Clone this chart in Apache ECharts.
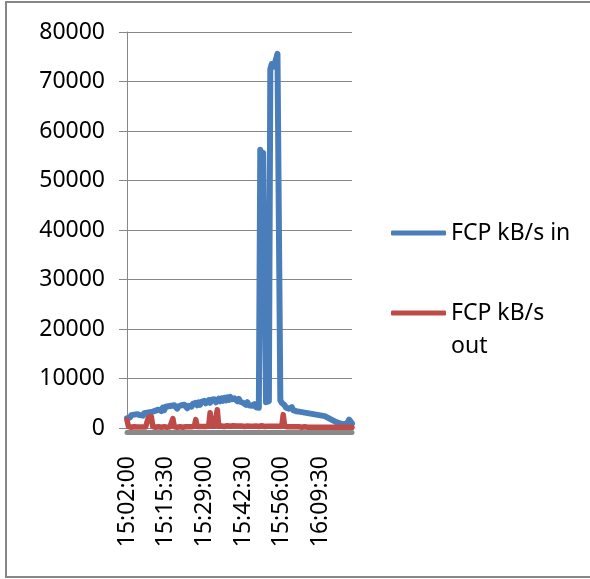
<!DOCTYPE html>
<html>
<head>
<meta charset="utf-8">
<script src="https://cdn.jsdelivr.net/npm/echarts@6/dist/echarts.min.js"></script>
<style>
  html, body { margin: 0; padding: 0; background: #fff; }
  #chart { width: 590px; height: 579px; }
</style>
</head>
<body>
<div id="chart"></div>
<script>
// Sample times: every 30 s from 15:02:00 to 16:20:30
const startSeconds = 15 * 3600 + 2 * 60;
const sampleCount = 158;
const times = [];
for (let i = 0; i < sampleCount; i++) {
  const t = startSeconds + i * 30;
  const h = Math.floor(t / 3600), m = Math.floor((t % 3600) / 60), s = t % 60;
  times.push(h + ':' + String(m).padStart(2, '0') + ':' + String(s).padStart(2, '0'));
}

const seriesNames = ['FCP kB/s in', 'FCP kB/s out'];

// Inbound throughput (kB/s)
const kbIn = [
  2000, 2400, 2100, 2600, 2200, 2700, 2300, 2800, 2400, 2600,
  2900, 2500, 3000, 2600, 3100, 2700, 3200, 2800, 3300, 2900,
  3500, 3100, 3700, 3900, 3400, 4100, 3600, 4300, 3900, 4400,
  4000, 4500, 4100, 4600, 4200, 3900, 4400, 4000, 4600, 4200,
  4700, 4300, 4000, 4500, 4800, 4300, 4900, 4500, 5100, 4600,
  5200, 4700, 5300, 4900, 5500, 5000, 5300, 5600, 5100, 5700,
  5300, 5800, 5200, 5600, 5900, 5400, 6000, 5500, 6100, 5600,
  6200, 5700, 6300, 5800, 5500, 6000, 5600, 5400, 5900, 5300,
  5700, 5100, 4900, 4700, 5200, 4600, 5000, 4500, 4300, 4800,
  4200, 4600, 4100, 56200, 54500, 55600, 56000, 5200, 5000, 5400,
  72500, 73500, 73000, 73600, 74500, 75600, 75500, 5600, 5100, 4800,
  4600, 4100, 4500, 3900, 3700, 4200, 3600, 4000, 3400, 3800,
  3300, 3700, 3200, 3600, 3100, 3500, 3000, 3400, 2900, 3300,
  2800, 3200, 2700, 3100, 2600, 3000, 2500, 2900, 2400, 2500,
  2100, 2200, 1800, 1900, 1500, 1600, 1200, 1300, 1000, 1100,
  800, 900, 700, 900, 1100, 1700, 1400, 900
];

// Outbound throughput (kB/s)
const kbOut = [
  1600, 300, 200, 150, 200, 250, 150, 200, 300, 200,
  150, 200, 250, 200, 300, 2200, 2400, 2300, 300, 200,
  150, 200, 250, 200, 150, 200, 250, 200, 150, 200,
  250, 300, 1900, 250, 200, 150, 200, 250, 200, 150,
  200, 250, 300, 250, 200, 250, 300, 350, 1700, 300,
  250, 300, 350, 300, 250, 300, 350, 400, 3100, 350,
  300, 350, 400, 3700, 350, 300, 400, 350, 300, 400,
  450, 400, 350, 400, 450, 500, 400, 350, 400, 450,
  400, 350, 300, 350, 400, 300, 350, 400, 350, 300,
  400, 350, 300, 400, 450, 350, 300, 400, 350, 300,
  350, 400, 350, 300, 350, 400, 350, 300, 350, 2700,
  350, 300, 250, 300, 250, 200, 250, 300, 250, 200,
  250, 200, 150, 200, 250, 200, 150, 200, 150, 200,
  150, 200, 150, 100, 150, 200, 150, 100, 150, 100,
  150, 100, 150, 100, 150, 100, 150, 100, 150, 100,
  150, 100, 150, 100, 150, 100, 150, 100
];

const yTicks = { min: 0, max: 80000, step: 10000 };

const FONT = 'Noto Sans';
const GRAY = '#878787';
const BLUE = '#4a7ebb';
const RED = '#be4b48';

const chart = echarts.init(document.getElementById('chart'), null, { renderer: 'canvas' });

chart.setOption({
  animation: false,
  backgroundColor: '#fff',
  textStyle: { fontFamily: FONT },
  graphic: [{
    type: 'rect',
    shape: { x: 6, y: 2, width: 600, height: 575 },
    style: { fill: 'none', stroke: GRAY, lineWidth: 2 },
    silent: true
  }],
  grid: { left: 127, top: 32, right: 238, bottom: 151 },
  legend: [{
    data: [{ name: seriesNames[0], icon: 'roundRect' }],
    left: 391, top: 216.5, padding: 0,
    itemWidth: 55, itemHeight: 5,
    textStyle: { fontFamily: FONT, fontSize: 23, color: '#000', lineHeight: 33 }
  }, {
    data: [{ name: seriesNames[1], icon: 'roundRect' }],
    left: 391, top: 263.5, padding: 0,
    itemWidth: 55, itemHeight: 5,
    // leading blank line keeps the first text line level with the icon
    formatter: function () { return '\nFCP kB/s\nout'; },
    textStyle: { fontFamily: FONT, fontSize: 23, color: '#000', lineHeight: 33 }
  }],
  xAxis: {
    type: 'category',
    data: times,
    boundaryGap: false,
    offset: 4,
    axisLine: { show: true, onZero: false, lineStyle: { color: '#8a8a8a', width: 5 } },
    axisTick: { show: false },
    axisLabel: {
      interval: 26,
      rotate: 90,
      margin: 24,
      padding: [8, 0, 0, 0],
      fontFamily: FONT, fontSize: 23, color: '#000'
    },
    splitLine: { show: false }
  },
  yAxis: {
    type: 'value',
    min: yTicks.min, max: yTicks.max, interval: yTicks.step,
    axisLine: { show: true, lineStyle: { color: GRAY, width: 1 } },
    axisTick: { show: true, length: 8, lineStyle: { color: GRAY } },
    axisLabel: {
      margin: 22, fontFamily: FONT, fontSize: 23, color: '#000',
      formatter: function (v) { return String(v); }
    },
    splitLine: { show: true, lineStyle: { color: GRAY, width: 1 } }
  },
  series: [{
    name: seriesNames[0],
    type: 'line',
    data: kbIn,
    showSymbol: false,
    symbol: 'none',
    color: BLUE,
    lineStyle: { color: BLUE, width: 6, join: 'round', cap: 'round' }
  }, {
    name: seriesNames[1],
    type: 'line',
    data: kbOut,
    showSymbol: false,
    symbol: 'none',
    color: RED,
    lineStyle: { color: RED, width: 5.5, join: 'round', cap: 'round' }
  }]
});
</script>
</body>
</html>
